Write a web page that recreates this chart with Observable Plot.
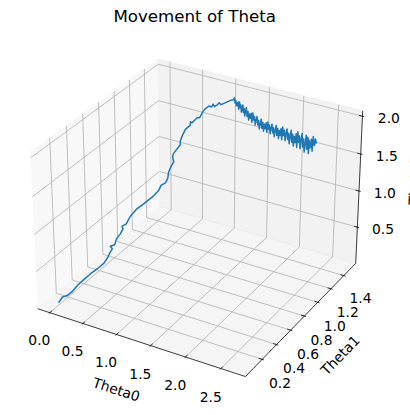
<!DOCTYPE html>
<html>
<head>
<meta charset="utf-8">
<script src="https://cdn.jsdelivr.net/npm/d3@7"></script>
<script src="https://cdn.jsdelivr.net/npm/@observablehq/plot@0.6"></script>
<style>
  html, body { margin: 0; padding: 0; background: #ffffff; }
  #chart svg { display: block; }
</style>
</head>
<body>
<div id="chart"></div>
<script>
// ---------------- data ----------------
const title = "Movement of Theta";
const axisLabels = ["Theta0", "Theta1", "Theta2"];

const theta0 = [
  0.009, 0.031, 0.061, 0.092, 0.123, 0.163, 0.204, 0.245, 0.285, 0.310,
  0.322, 0.337, 0.326, 0.351, 0.363, 0.387, 0.404, 0.398, 0.424, 0.448,
  0.489, 0.530, 0.581, 0.621, 0.636, 0.662, 0.676, 0.683, 0.693, 0.703,
  0.697, 0.703, 0.734, 0.754, 0.754, 0.765, 0.785, 0.815, 0.815, 0.826,
  0.856, 0.871, 0.887, 0.901, 0.927, 0.944, 0.953, 0.962, 0.979, 0.990,
  1.001, 1.019, 1.060, 1.080,
  1.092, 1.103, 1.115, 1.127, 1.138,
  1.150, 1.163, 1.175, 1.188, 1.201, 1.213,
  1.226, 1.239, 1.251, 1.264, 1.277, 1.289,
  1.302, 1.318, 1.334, 1.350, 1.365, 1.381,
  1.397, 1.413, 1.428, 1.444, 1.460, 1.475,
  1.491, 1.507, 1.523, 1.539, 1.554, 1.570,
  1.586, 1.602, 1.618, 1.634, 1.649, 1.665,
  1.681, 1.697, 1.713, 1.729, 1.744, 1.760,
  1.776, 1.792, 1.808, 1.824, 1.839, 1.855,
  1.871, 1.887, 1.902, 1.918, 1.934, 1.949,
  1.965, 1.981, 1.997, 2.013, 2.028, 2.044,
  2.060, 2.076, 2.092, 2.108, 2.123, 2.139,
  2.155, 2.171, 2.187, 2.203, 2.218, 2.234,
  2.250, 2.266, 2.282, 2.298, 2.313, 2.329,
  2.345, 2.361, 2.377, 2.393, 2.408, 2.424,
  2.440, 2.456, 2.471, 2.487, 2.503, 2.518,
  2.526,
  2.534, 2.553, 2.572, 2.569, 2.610, 2.629,
  2.648
];
const theta1 = [
  0.075, 0.104, 0.145, 0.181, 0.220, 0.273, 0.325, 0.377, 0.428, 0.459,
  0.475, 0.495, 0.480, 0.515, 0.529, 0.561, 0.582, 0.573, 0.608, 0.640,
  0.694, 0.747, 0.815, 0.869, 0.888, 0.923, 0.942, 0.950, 0.964, 1.000,
  0.992, 1.000, 1.018, 1.046, 1.045, 1.059, 1.087, 1.128, 1.128, 1.142,
  1.183, 1.204, 1.225, 1.244, 1.279, 1.302, 1.314, 1.326, 1.349, 1.364,
  1.379, 1.404, 1.459, 1.486,
  1.484, 1.481, 1.479, 1.476, 1.474,
  1.472, 1.469, 1.466, 1.464, 1.461, 1.458,
  1.455, 1.453, 1.450, 1.447, 1.445, 1.442,
  1.439, 1.436, 1.432, 1.429, 1.425, 1.422,
  1.419, 1.415, 1.411, 1.408, 1.404, 1.401,
  1.397, 1.394, 1.390, 1.387, 1.383, 1.379,
  1.376, 1.372, 1.368, 1.365, 1.361, 1.357,
  1.354, 1.350, 1.346, 1.343, 1.339, 1.335,
  1.331, 1.327, 1.324, 1.320, 1.316, 1.312,
  1.308, 1.305, 1.301, 1.297, 1.293, 1.289,
  1.285, 1.281, 1.277, 1.273, 1.270, 1.266,
  1.262, 1.258, 1.254, 1.250, 1.246, 1.241,
  1.237, 1.233, 1.229, 1.225, 1.221, 1.217,
  1.213, 1.209, 1.205, 1.200, 1.196, 1.192,
  1.188, 1.184, 1.180, 1.175, 1.171, 1.167,
  1.163, 1.158, 1.154, 1.150, 1.146, 1.141,
  1.103,
  1.137, 1.132, 1.127, 1.141, 1.116, 1.111,
  1.105
];
const theta2 = [
  0.032, 0.088, 0.085, 0.114, 0.169, 0.216, 0.258, 0.291, 0.333, 0.394,
  0.444, 0.485, 0.530, 0.527, 0.599, 0.646, 0.701, 0.742, 0.752, 0.831,
  0.901, 0.934, 0.980, 1.037, 1.093, 1.107, 1.150, 1.235, 1.282, 1.336,
  1.411, 1.452, 1.504, 1.542, 1.588, 1.648, 1.723, 1.755, 1.800, 1.779,
  1.821, 1.810, 1.863, 1.896, 1.921, 1.895, 1.925, 1.885, 1.896, 1.915,
  1.880, 1.883, 1.891, 1.883,
  1.914, 1.849, 1.888, 1.823, 1.869,
  1.830, 1.887, 1.795, 1.895, 1.825, 1.865,
  1.776, 1.838, 1.880, 1.787, 1.842, 1.748,
  1.810, 1.870, 1.761, 1.834, 1.725, 1.812,
  1.760, 1.834, 1.720, 1.850, 1.764, 1.817,
  1.712, 1.786, 1.837, 1.731, 1.797, 1.691,
  1.765, 1.834, 1.722, 1.806, 1.694, 1.793,
  1.741, 1.825, 1.706, 1.850, 1.761, 1.822,
  1.715, 1.797, 1.855, 1.746, 1.820, 1.710,
  1.793, 1.872, 1.747, 1.843, 1.718, 1.831,
  1.772, 1.873, 1.732, 1.906, 1.800, 1.875,
  1.747, 1.845, 1.914, 1.784, 1.872, 1.742,
  1.839, 1.931, 1.782, 1.894, 1.746, 1.877,
  1.805, 1.929, 1.756, 1.968, 1.838, 1.929,
  1.770, 1.893, 1.980, 1.815, 1.926, 1.761,
  1.884, 1.996, 1.820, 1.956, 1.780, 1.940,
  2.030,
  1.868, 1.989, 1.841, 2.019, 1.933, 2.024,
  1.975
];

const xTicks = [0.0, 0.5, 1.0, 1.5, 2.0, 2.5];
const xTickLabels = ["0.0", "0.5", "1.0", "1.5", "2.0", "2.5"];
const yTicks = [0.2, 0.4, 0.6, 0.8, 1.0, 1.2, 1.4];
const yTickLabels = ["0.2", "0.4", "0.6", "0.8", "1.0", "1.2", "1.4"];
const zTicks = [0.5, 1.0, 1.5, 2.0];
const zTickLabels = ["0.5", "1.0", "1.5", "2.0"];

// ---------------- 3D axes (matplotlib-style perspective view) ----------------
function lim(v, m) { const lo = d3.min(v), hi = d3.max(v), d = (hi - lo) * m; return [lo - d, hi + d]; }
const LIMS = [lim(theta0, 0.05), lim(theta1, 0.05), lim(theta2, 0)];
const RNG = LIMS.map(l => l[1] - l[0]);
const PAD = LIMS.map((l, i) => [l[0] - RNG[i] / 48, l[1] + RNG[i] / 48]);
const [xb, yb, zb] = PAD;

const deg = Math.PI / 180, elev = 30 * deg, azim = -60 * deg, dist = 10;
const asp0 = [4, 4, 3], an = Math.hypot(...asp0);
const ASP = asp0.map(a => a * 1.8294640721620434 / an);
const CEN = ASP.map(a => a / 2);
const ps = [Math.cos(elev) * Math.cos(azim), Math.cos(elev) * Math.sin(azim), Math.sin(elev)];
const EYE = CEN.map((r, i) => r + dist * ps[i]);
const sub = (a, b) => a.map((v, i) => v - b[i]);
const dot = (a, b) => a[0] * b[0] + a[1] * b[1] + a[2] * b[2];
const cross = (a, b) => [a[1] * b[2] - a[2] * b[1], a[2] * b[0] - a[0] * b[2], a[0] * b[1] - a[1] * b[0]];
const unit = a => { const n = Math.hypot(...a); return a.map(v => v / n); };
const Wv = unit(sub(EYE, CEN));
const Uv = unit(cross([0, 0, 1], Wv));
const Vv = cross(Wv, Uv);
function project(p3) {
  const p = p3.map((v, i) => (v - LIMS[i][0]) / RNG[i] * ASP[i]);
  const d = sub(p, EYE);
  const s = -dot(Wv, d);
  return {X: dot(Uv, d) / s, Y: dot(Vv, d) / s};
}

// line data
const path = theta0.map((x, i) => project([x, theta1[i], theta2[i]]));

// panes
const paneDefs = [
  {c: [[xb[0], yb[0], zb[0]], [xb[0], yb[1], zb[0]], [xb[0], yb[1], zb[1]], [xb[0], yb[0], zb[1]]], color: "rgb(242,242,242)"},
  {c: [[xb[0], yb[1], zb[0]], [xb[1], yb[1], zb[0]], [xb[1], yb[1], zb[1]], [xb[0], yb[1], zb[1]]], color: "rgb(230,230,230)"},
  {c: [[xb[0], yb[0], zb[0]], [xb[1], yb[0], zb[0]], [xb[1], yb[1], zb[0]], [xb[0], yb[1], zb[0]]], color: "rgb(236,236,236)"}
];

// grid lines
const grid = [];
let g = 0;
xTicks.forEach(t => { [[t, yb[0], zb[0]], [t, yb[1], zb[0]], [t, yb[1], zb[1]]].forEach(p => grid.push({...project(p), g})); g++; });
yTicks.forEach(t => { [[xb[0], t, zb[1]], [xb[0], t, zb[0]], [xb[1], t, zb[0]]].forEach(p => grid.push({...project(p), g})); g++; });
zTicks.forEach(t => { [[xb[1], yb[1], t], [xb[0], yb[1], t], [xb[0], yb[0], t]].forEach(p => grid.push({...project(p), g})); g++; });

// axis lines
const axisEdges = [
  [[xb[0], yb[0], zb[0]], [xb[1], yb[0], zb[0]]],
  [[xb[1], yb[0], zb[0]], [xb[1], yb[1], zb[0]]],
  [[xb[1], yb[1], zb[0]], [xb[1], yb[1], zb[1]]]
];
const axisLines = [];
axisEdges.forEach((e, i) => e.forEach(p => axisLines.push({...project(p), g: i})));

// tick marks
const tdx = RNG[0] / 12, tdy = RNG[1] / 12;
const ticks = [];
function addTick(a, b) { const A = project(a), B = project(b); ticks.push({X1: A.X, Y1: A.Y, X2: B.X, Y2: B.Y}); }
xTicks.forEach(t => addTick([t, yb[0] - 0.1 * tdy, zb[0]], [t, yb[0] + 0.2 * tdy, zb[0]]));
yTicks.forEach(t => addTick([xb[1] + 0.1 * tdx, t, zb[0]], [xb[1] - 0.2 * tdx, t, zb[0]]));
zTicks.forEach(t => addTick([xb[1] + 0.1 * tdx, yb[1], t], [xb[1] - 0.2 * tdx, yb[1], t]));

// tick labels
const dpp = 48 / (72 * 2 * 3.696);
const kT = (3.5 + 8) * dpp / 12, kA = (4 + 21) * dpp / 12;
const tickLabels = [];
xTicks.forEach((t, i) => tickLabels.push({...project([t, yb[0] - kT * RNG[1], zb[0] - kT * RNG[2]]), t: xTickLabels[i]}));
yTicks.forEach((t, i) => tickLabels.push({...project([xb[1] + kT * RNG[0], t, zb[0] - kT * RNG[2]]), t: yTickLabels[i]}));
zTicks.forEach((t, i) => tickLabels.push({...project([xb[1] + kT * RNG[0], yb[1] + kT * RNG[1], t]), t: zTickLabels[i]}));

// axis labels
const mid = a => (a[0] + a[1]) / 2;
const axisLabelPos = [
  [mid(xb), yb[0] - kA * RNG[1], zb[0] - kA * RNG[2]],
  [xb[1] + kA * RNG[0], mid(yb), zb[0] - kA * RNG[2]],
  [xb[1] + kA * RNG[0], yb[1] + kA * RNG[1], mid(zb)]
];
function textAngle(e) {
  const A = project(e[0]), B = project(e[1]);
  let a = Math.atan2(B.Y - A.Y, B.X - A.X) / deg;
  a = ((a + 180) % 180 + 180) % 180;
  if (a > 90) a -= 180;
  return -a;
}
const axisLabelData = axisLabelPos.map((p, i) => ({...project(p), t: axisLabels[i], r: textAngle(axisEdges[i])}));

// 2D view of the 3D axes
const VIEW = [-0.095, 0.09];
const font = "DejaVu Sans";

const marks = [];
paneDefs.forEach(p => {
  const pts = p.c.map(project);
  marks.push(Plot.line(pts, {x: "X", y: "Y", fill: p.color, fillOpacity: 0.5, stroke: "none", curve: "linear-closed"}));
  marks.push(Plot.line(pts, {x: "X", y: "Y", stroke: p.color, strokeOpacity: 0.5, strokeWidth: 1, strokeLinecap: "butt"}));
});
marks.push(Plot.line(grid, {x: "X", y: "Y", z: "g", stroke: "#b0b0b0", strokeWidth: 0.8, strokeLinecap: "butt"}));
marks.push(Plot.line(axisLines, {x: "X", y: "Y", z: "g", stroke: "black", strokeWidth: 0.75, strokeLinecap: "butt"}));
marks.push(Plot.link(ticks, {x1: "X1", y1: "Y1", x2: "X2", y2: "Y2", stroke: "black", strokeWidth: 0.8}));
marks.push(Plot.text(tickLabels, {x: "X", y: "Y", text: "t", textAnchor: "middle", lineAnchor: "top", dy: 0.7, fontSize: 13.89, fill: "black"}));
marks.push(Plot.text(axisLabelData, {x: "X", y: "Y", text: "t", rotate: "r", textAnchor: "middle", lineAnchor: "middle", dy: -0.8, fontSize: 13.89, fill: "black"}));
marks.push(Plot.line(path, {x: "X", y: "Y", stroke: "#1f77b4", strokeWidth: 1.5, strokeLinecap: "butt", strokeLinejoin: "round"}));
marks.push(Plot.text([{X: mid(VIEW), Y: VIEW[1], t: title}], {x: "X", y: "Y", text: "t", textAnchor: "middle", lineAnchor: "middle", dy: -13.66, fontSize: 16.67, fill: "black"}));

const chart = Plot.plot({
  width: 410,
  height: 415,
  margin: 0,
  style: {background: "#ffffff", fontFamily: font, color: "black"},
  x: {type: "linear", domain: VIEW, range: [9.4, 379.0], axis: null},
  y: {type: "linear", domain: VIEW, range: [399.4, 29.8], axis: null},
  marks
});
document.getElementById("chart").appendChild(chart);
</script>
</body>
</html>
